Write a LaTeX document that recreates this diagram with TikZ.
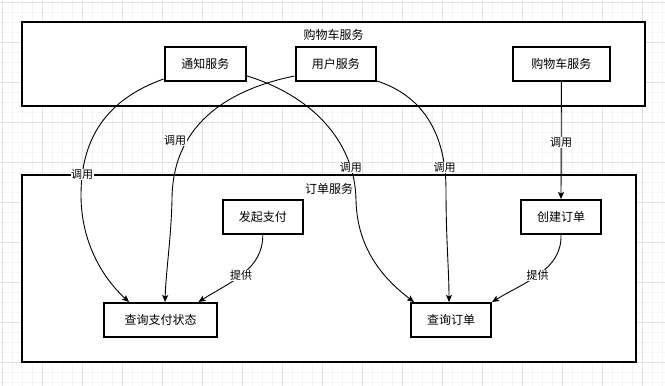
\documentclass[tikz,border=0pt]{standalone}
\usepackage{fontspec}
\setmainfont{Noto Sans CJK SC}
\usepackage{tikz}
\usetikzlibrary{arrows.meta}
\definecolor{gridminor}{RGB}{244,244,244}
\definecolor{gridmajor}{RGB}{226,226,226}

\tikzset{
  grpbox/.style={draw, line width=2pt, fill=white, inner sep=0pt},
  svcbox/.style={draw, line width=2pt, fill=white, minimum height=34pt, inner sep=0pt, font=\fontsize{12}{14}\selectfont},
  grptitle/.style={inner sep=0pt, font=\fontsize{12}{14}\selectfont},
  lbl/.style={fill=white, inner sep=0.6pt, font=\fontsize{11}{13}\selectfont},
  link/.style={->, line width=0.9pt},
}

\begin{document}
\begin{tikzpicture}[x=1pt, y=-1pt, >={Stealth[length=7pt, width=6pt, inset=1.5pt]}]
  \useasboundingbox (0,0) rectangle (665,386);
  % background grid
  \foreach \gx in {2.7,12.7,...,665} \draw[gridminor, line width=0.8pt] (\gx,0) -- (\gx,386);
  \foreach \gy in {2.3,12.3,...,386} \draw[gridminor, line width=0.8pt] (0,\gy) -- (665,\gy);
  \foreach \gx in {2.7,42.7,...,665} \draw[gridmajor, line width=0.8pt] (\gx,0) -- (\gx,386);
  \foreach \gy in {2.3,42.3,...,386} \draw[gridmajor, line width=0.8pt] (0,\gy) -- (665,\gy);

  % groups
  \node[grpbox, minimum width=623pt, minimum height=84pt] (cartgrp) at (333.5,64) {};
  \node[grptitle] (carttitle) at (333.5,35) {购物车服务};
  \node[grpbox, minimum width=614pt, minimum height=187pt] (ordergrp) at (329,268.5) {};
  \node[grptitle] (ordertitle) at (329,189) {订单服务};

  % services
  \node[svcbox, minimum width=81.5pt] (notify) at (205.3,64) {通知服务};
  \node[svcbox, minimum width=80.5pt] (user) at (335.8,64) {用户服务};
  \node[svcbox, minimum width=97pt] (cart) at (561.4,64) {购物车服务};
  \node[svcbox, minimum width=80.5pt] (pay) at (262.8,216.7) {发起支付};
  \node[svcbox, minimum width=80pt] (create) at (561,217) {创建订单};
  \node[svcbox, minimum width=113pt] (paystat) at (160.5,320) {查询支付状态};
  \node[svcbox, minimum width=80pt] (query) at (451,320) {查询订单};

  % way points of the curved links
  \coordinate (v1) at (81,195);
  \coordinate (v2) at (356,200);
  \coordinate (v3) at (172,200);
  \coordinate (v4) at (446,190);

  % links
  \draw[link] ([yshift=3pt]notify.south west) .. controls (105,100) and (81,140) .. (v1)
    node[lbl, pos=0.87] (l1) {调用}
    .. controls (81,245) and (105,280) .. ([xshift=-31.5pt]paystat.north);
  \draw[link] ([yshift=6pt]notify.south east) .. controls (310,95) and (355,140) .. (v2)
    node[lbl, pos=0.81] (l2) {调用}
    .. controls (357,250) and (385,280) .. ([xshift=4pt]query.north west);
  \draw[link] ([yshift=6pt]user.south west) .. controls (235,88) and (172,120) .. (v3)
    node[lbl, pos=0.7, xshift=-12pt] (l3) {调用}
    .. controls (171,240) and (166,270) .. ([xshift=4.5pt]paystat.north);
  \draw[link] ([yshift=1pt]user.south east) .. controls (420,95) and (446,130) .. (v4)
    node[lbl, pos=0.87] (l4) {调用}
    .. controls (446,240) and (449,270) .. ([xshift=-2pt]query.north);
  \draw[link] (cart.south) -- (create.north) node[lbl, pos=0.52] (l5) {调用};
  \draw[link] (pay.south) .. controls (263,270) and (230,282) .. ([xshift=38pt]paystat.north)
    node[lbl, pos=0.52] (l6) {提供};
  \draw[link] (create.south) .. controls (562,270) and (525,282) .. (query.north east)
    node[lbl, pos=0.52] (l7) {提供};
\end{tikzpicture}
\end{document}
